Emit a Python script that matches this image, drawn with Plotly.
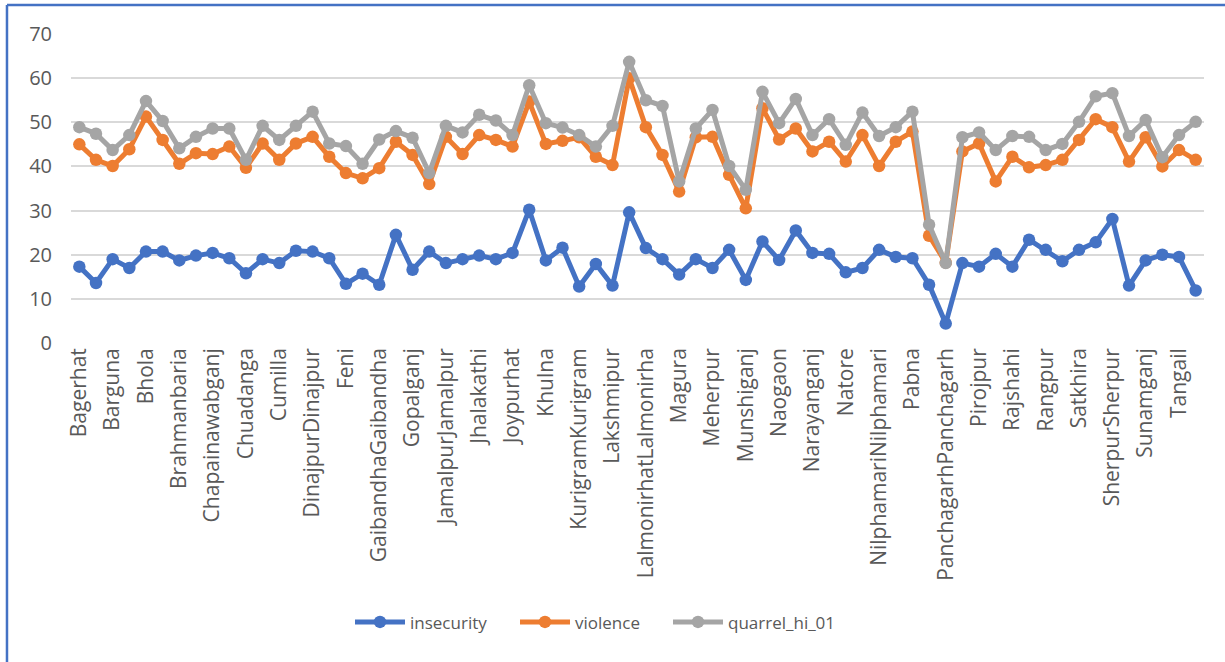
import plotly.graph_objects as go

# District names (every other one is labelled on the axis)
districts = [
    "Bagerhat", "Bandarban", "Barguna", "Barishal", "Bhola", "Bogura",
    "Brahmanbaria", "Chandpur", "Chapainawabganj", "Chattogram", "Chuadanga",
    "Cox's Bazar", "Cumilla", "Dhaka", "DinajpurDinajpur", "Faridpur", "Feni",
    "Gaibandha", "GaibandhaGaibandha", "Gazipur", "Gopalganj", "Habiganj",
    "JamalpurJamalpur", "Jashore", "Jhalakathi", "Jhenaidah", "Joypurhat",
    "Khagrachhari", "Khulna", "Kishoreganj", "KurigramKurigram", "Kushtia",
    "Lakshmipur", "Lalmonirhat", "LalmonirhatLalmonirha", "Madaripur", "Magura",
    "Manikganj", "Meherpur", "Moulvibazar", "Munshiganj", "Mymensingh",
    "Naogaon", "Narail", "Narayanganj", "Narsingdi", "Natore", "Netrokona",
    "NilphamariNilphamari", "Noakhali", "Pabna", "Panchagarh",
    "PanchagarhPanchagarh", "Patuakhali", "Pirojpur", "Rajbari", "Rajshahi",
    "Rangamati", "Rangpur", "RangpurRangpur", "Satkhira", "Shariatpur",
    "SherpurSherpur", "Sirajganj", "Sunamganj", "Sylhet", "Tangail",
    "Thakurgaon",
]

insecurity = [
    17.3, 13.6, 19.0, 17.0, 20.7, 20.7, 18.7, 19.8, 20.4, 19.2,
    15.8, 19.0, 18.1, 20.9, 20.7, 19.2, 13.4, 15.7, 13.2, 24.5,
    16.6, 20.7, 18.1, 19.0, 19.8, 19.0, 20.4, 30.2, 18.7, 21.6,
    12.8, 17.9, 13.0, 29.6, 21.5, 19.0, 15.5, 19.0, 17.0, 21.1,
    14.3, 23.0, 18.8, 25.5, 20.4, 20.2, 16.0, 17.0, 21.1, 19.5,
    19.2, 13.2, 4.4, 18.1, 17.3, 20.2, 17.3, 23.4, 21.1, 18.5,
    21.1, 22.8, 28.1, 13.0, 18.7, 20.0, 19.5, 11.9,
]

violence = [
    45.0, 41.5, 40.1, 43.9, 51.3, 46.0, 40.6, 43.0, 42.8, 44.5,
    39.7, 45.2, 41.5, 45.2, 46.7, 42.2, 38.5, 37.3, 39.6, 45.6,
    42.6, 36.0, 46.7, 42.8, 47.1, 46.0, 44.5, 54.7, 45.1, 45.8,
    46.6, 42.2, 40.3, 60.0, 48.9, 42.6, 34.3, 46.6, 46.7, 38.1,
    30.5, 53.2, 46.1, 48.6, 43.4, 45.6, 41.1, 47.1, 40.1, 45.6,
    47.9, 24.3, 18.2, 43.4, 45.2, 36.6, 42.2, 39.8, 40.3, 41.5,
    46.0, 50.7, 48.9, 41.1, 46.6, 40.0, 43.7, 41.5,
]

quarrel_hi_01 = [
    48.9, 47.4, 43.7, 47.1, 54.8, 50.3, 44.1, 46.7, 48.6, 48.6,
    41.5, 49.2, 46.0, 49.2, 52.4, 45.2, 44.6, 40.6, 46.1, 48.0,
    46.5, 38.5, 49.2, 47.7, 51.7, 50.4, 47.1, 58.4, 49.8, 48.8,
    47.1, 44.5, 49.2, 63.7, 55.0, 53.7, 36.6, 48.6, 52.8, 40.1,
    34.7, 56.9, 49.8, 55.3, 47.1, 50.7, 44.9, 52.2, 46.9, 48.9,
    52.4, 26.8, 18.1, 46.6, 47.7, 43.7, 46.9, 46.7, 43.7, 45.1,
    50.1, 55.9, 56.6, 46.9, 50.5, 42.1, 47.1, 50.1,
]

series = [
    ("insecurity", insecurity, "#4472C4"),
    ("violence", violence, "#ED7D31"),
    ("quarrel_hi_01", quarrel_hi_01, "#A5A5A5"),
]

y_ticks = [0, 10, 20, 30, 40, 50, 60, 70]

# Plot-area geometry in pixels, used to place legend entries
PLOT_LEFT, PLOT_WIDTH = 71, 1133
legend_left_px = [350, 515, 668]
legend_ids = ["legend", "legend2", "legend3"]

fig = go.Figure()
for (name, values, color), lid in zip(series, legend_ids):
    fig.add_trace(go.Scatter(
        x=list(range(len(districts))),
        y=values,
        name=name,
        mode="lines+markers",
        line=dict(color=color, width=5),
        marker=dict(color=color, size=12.5),
        hovertext=districts,
        legend=lid,
    ))

tick_font = dict(family="Open Sans", size=21, color="#595959")

# Chart frame: a blue rule along the top and the left edge
frame = dict(color="#4472C4", width=2.5)
fig.add_shape(type="line", xref="paper", yref="paper",
              x0=-0.0565, x1=1.02, y0=1.094, y1=1.094, line=frame)
fig.add_shape(type="line", xref="paper", yref="paper",
              x0=-0.0565, x1=-0.0565, y0=1.094, y1=-1.04, line=frame)

legend_style = dict(
    orientation="h",
    xanchor="left",
    y=-0.904,
    yanchor="middle",
    font=dict(family="Open Sans", size=17, color="#595959"),
    itemwidth=50,
    bgcolor="rgba(0,0,0,0)",
)
legends = {
    lid: dict(legend_style, x=(px - PLOT_LEFT) / PLOT_WIDTH)
    for lid, px in zip(legend_ids, legend_left_px)
}

fig.update_layout(
    width=1225,
    height=662,
    margin=dict(l=71, r=21, t=34, b=319),
    paper_bgcolor="white",
    plot_bgcolor="white",
    font=dict(family="Open Sans", color="#595959"),
    xaxis=dict(
        range=[-0.5, len(districts) - 0.5],
        tickvals=list(range(0, len(districts), 2)),
        ticktext=districts[0::2],
        tickangle=-90,
        tickfont=tick_font,
        showgrid=False,
        zeroline=False,
        showline=False,
        ticks="",
    ),
    yaxis=dict(
        range=[0, 70],
        tickvals=y_ticks,
        tickfont=dict(family="Open Sans", size=20, color="#595959"),
        showgrid=True,
        gridcolor="#D9D9D9",
        gridwidth=1.5,
        zeroline=False,
        showline=False,
        ticks="",
        ticklabelstandoff=18,
    ),
    showlegend=True,
    **legends,
)

fig.write_html("out.html")
